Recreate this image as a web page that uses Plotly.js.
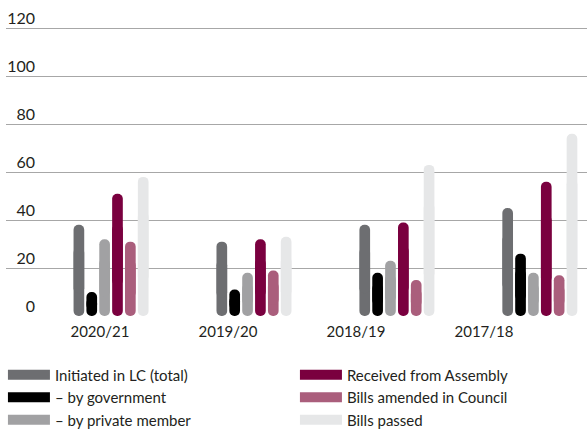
<!DOCTYPE html>
<html><head><meta charset="utf-8">
<script src="https://cdn.plot.ly/plotly-3.0.1.min.js"></script>
<style>html,body{margin:0;padding:0;background:#fff}#chart{width:587px;height:435px}</style>
</head><body><div id="chart"></div>
<script>
const years = ['2020/21','2019/20','2018/19','2017/18'];
const seriesNames = ['Initiated in LC (total)','– by government','– by private member','Received from Assembly','Bills amended in Council','Bills passed'];
const initiated = [38, 31, 38, 45];
const byGovernment = [10, 11, 18, 26];
const byPrivate = [32, 18, 23, 18];
const received = [51, 32, 39, 56];
const amended = [31, 19, 15, 17];
const passed = [58, 33, 63, 76];
const colors = ['#6d6e71','#000000','#a1a1a3','#7a003f','#aa5e7c','#e6e7e8'];
const yTicks = [0,20,40,60,80,100,120];

const values = [initiated, byGovernment, byPrivate, received, amended, passed];
const legendOrder = [0,3,1,4,2,5];
const traces = [];
values.forEach((vals, i) => {
  // lower piece rounded at the bottom, upper piece rounded at the top, overlapping in the middle
  traces.push({type:'bar', x:years, y:vals.map(v=>-0.75*v), base:vals.map(v=>0.75*v), offsetgroup:String(i), marker:{color:colors[i], cornerradius:5, line:{width:0}}, showlegend:false, hoverinfo:'skip'});
  traces.push({type:'bar', x:years, y:vals.map(v=>0.75*v), base:vals.map(v=>0.25*v), offsetgroup:String(i), marker:{color:colors[i], cornerradius:5, line:{width:0}}, showlegend:false, hoverinfo:'skip'});
});
legendOrder.forEach((i, r) => {
  traces.push({type:'scatter', mode:'lines', x:[null], y:[null], xaxis:'x2', name:seriesNames[i], line:{color:colors[i], width:12}, legendrank:r+1, hoverinfo:'skip'});
});

const layout = {
  width:587, height:435,
  margin:{l:6, r:0, t:27.3, b:119},
  paper_bgcolor:'#fff', plot_bgcolor:'#fff',
  font:{family:'Lato, sans-serif', color:'#231f20', size:15},
  barmode:'group', bargap:0.46, bargroupgap:0.17,
  showlegend:true,
  xaxis:{type:'category', range:[-0.735, 3.33], showticklabels:false, showgrid:false, zeroline:false, showline:false, ticks:''},
  xaxis2:{overlaying:'x', anchor:'y', side:'bottom', range:[-0.734, 3.805], tickvals:[0,1,2,3], ticktext:years, showgrid:false, zeroline:false, showline:false, ticks:'', tickfont:{size:15}, ticklabelstandoff:5},
  yaxis:{range:[0,120.5], tickvals:yTicks, showgrid:true, gridcolor:'#a7a7a7', gridwidth:1, zeroline:true, zerolinecolor:'rgba(0,0,0,0)', showline:false, ticks:'', tickfont:{size:16}, ticklabelposition:'outside', ticklabelstandoff:-30, ticklabelshift:-10},
  legend:{orientation:'h', x:0.005, xref:'container', xanchor:'left', y:0.176, yref:'container', yanchor:'top', entrywidth:235, entrywidthmode:'pixels', itemwidth:42, font:{size:15}, tracegroupgap:0, traceorder:'normal'}
};
Plotly.newPlot('chart', traces, layout, {staticPlot:true, displayModeBar:false});
</script></body></html>
